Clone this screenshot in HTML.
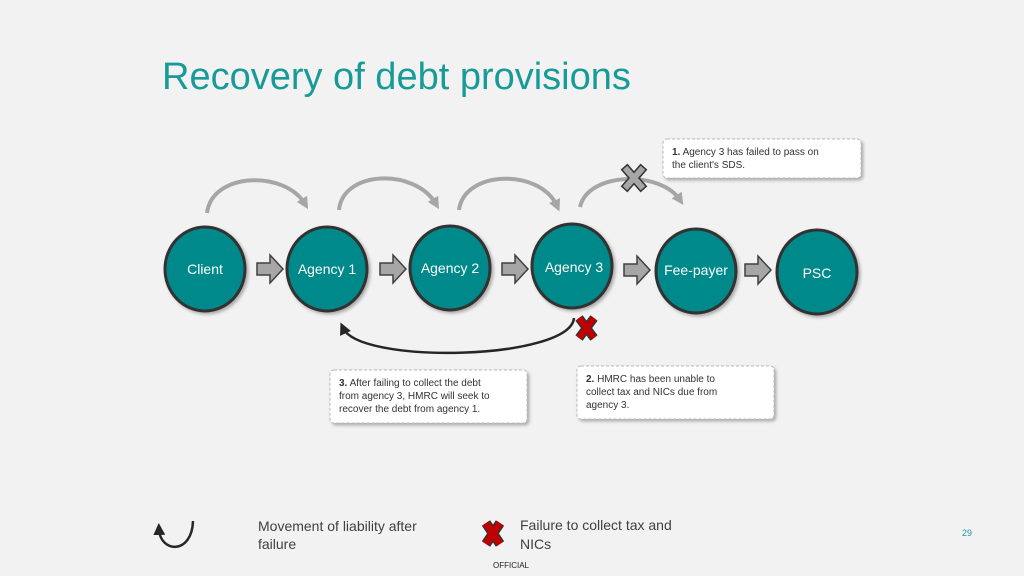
<!DOCTYPE html>
<html><head><style>
body{margin:0;background:#f2f2f2;}
svg{display:block;font-family:"Liberation Sans",sans-serif;}
</style></head><body>
<svg width="1024" height="576" viewBox="0 0 1024 576">
<rect width="1024" height="576" fill="#f2f2f2"/>
<text x="162" y="89" font-size="38" fill="#179b98">Recovery of debt provisions</text>
<defs>
<marker id="ga" markerUnits="userSpaceOnUse" markerWidth="14" markerHeight="14" refX="6" refY="7" orient="auto"><path d="M0,1 L12,7 L0,13z" fill="#a6a6a6"/></marker>
<marker id="ba" markerUnits="userSpaceOnUse" markerWidth="14" markerHeight="14" refX="6" refY="7" orient="auto"><path d="M0,1 L12,7 L0,13z" fill="#262626"/></marker>
<filter id="sh"><feDropShadow dx="2" dy="2" stdDeviation="1.5" flood-opacity="0.3"/></filter>
</defs>
<g fill="none" stroke="#a6a6a6" stroke-width="4">
<path d="M207,213 C212,172 285,170 305,204" marker-end="url(#ga)"/>
<path d="M339,210 C343,170 415,168 436,204" marker-end="url(#ga)"/>
<path d="M459,210 C464,170 540,168 557,206" marker-end="url(#ga)"/>
<path d="M580,207 C588,172 660,170 680,200" marker-end="url(#ga)"/>
</g>
<path d="M574,318 C570,360 360,365 343,328" fill="none" stroke="#262626" stroke-width="2.5" marker-end="url(#ba)"/>
<g fill="#00898a" stroke="#333" stroke-width="3" filter="url(#sh)">
<ellipse cx="205" cy="269" rx="40" ry="42"/>
<ellipse cx="327" cy="269" rx="40" ry="42"/>
<ellipse cx="450" cy="268" rx="40" ry="42"/>
<ellipse cx="572" cy="266" rx="40" ry="42"/>
<ellipse cx="696" cy="271" rx="40" ry="42"/>
<ellipse cx="817" cy="272" rx="40" ry="42"/>
</g>
<g fill="#a6a6a6" stroke="#404040" stroke-width="1.5">
<path d="M257,263 h13 v-8 l13,14 l-13,14 v-8 h-13z"/>
<path d="M380,263 h13 v-8 l13,14 l-13,14 v-8 h-13z"/>
<path d="M502,263 h13 v-8 l13,14 l-13,14 v-8 h-13z"/>
<path d="M624,264 h13 v-8 l13,14 l-13,14 v-8 h-13z"/>
<path d="M745,264 h13 v-8 l13,14 l-13,14 v-8 h-13z"/>
</g>
<g fill="#fff" font-size="14" text-anchor="middle">
<text x="205" y="274">Client</text>
<text x="327" y="274">Agency 1</text>
<text x="450" y="273">Agency 2</text>
<text x="574" y="272">Agency 3</text>
<text x="696" y="275">Fee-payer</text>
<text x="817" y="278">PSC</text>
</g>
<g stroke="#333" stroke-width="9" stroke-linecap="square"><path d="M627,170 l14,16 M641,170 l-14,16"/></g>
<g stroke="#a6a6a6" stroke-width="6" stroke-linecap="square"><path d="M627,170 l14,16 M641,170 l-14,16"/></g>
<g stroke="#333" stroke-width="9"><path d="M579,318 l15,20 M594,318 l-15,20"/></g>
<g stroke="#c00000" stroke-width="6"><path d="M579,318 l15,20 M594,318 l-15,20"/></g>
<g fill="#fff" stroke="#bbb" stroke-dasharray="3,2" filter="url(#sh)">
<rect x="663" y="139" width="198" height="39" rx="4"/>
<rect x="330" y="370" width="197" height="53" rx="4"/>
<rect x="577" y="366" width="197" height="53" rx="4"/>
</g>
<g font-size="10" fill="#333">
<text x="672" y="155"><tspan font-weight="bold">1.</tspan> Agency 3 has failed to pass on</text>
<text x="672" y="168">the client's SDS.</text>
<text x="339" y="386"><tspan font-weight="bold">3.</tspan> After failing to collect the debt</text>
<text x="339" y="399">from agency 3, HMRC will seek to</text>
<text x="339" y="412">recover the debt from agency 1.</text>
<text x="586" y="382"><tspan font-weight="bold">2.</tspan> HMRC has been unable to</text>
<text x="586" y="395">collect tax and NICs due from</text>
<text x="586" y="408">agency 3.</text>
</g>
<path d="M193,521 C192,555 160,553 159,529" fill="none" stroke="#262626" stroke-width="2.5" marker-end="url(#ba)"/>
<g font-size="14" fill="#404040">
<text x="258" y="531">Movement of liability after</text>
<text x="258" y="549">failure</text>
<text x="520" y="530">Failure to collect tax and</text>
<text x="520" y="549">NICs</text>
</g>
<g stroke="#333" stroke-width="10"><path d="M486,523 l14,21 M500,523 l-14,21"/></g>
<g stroke="#c00000" stroke-width="7"><path d="M486,523 l14,21 M500,523 l-14,21"/></g>
<text x="962" y="536" font-size="9" fill="#179b98">29</text>
<text x="493" y="568" font-size="8" fill="#222">OFFICIAL</text>
</svg>
</body></html>
